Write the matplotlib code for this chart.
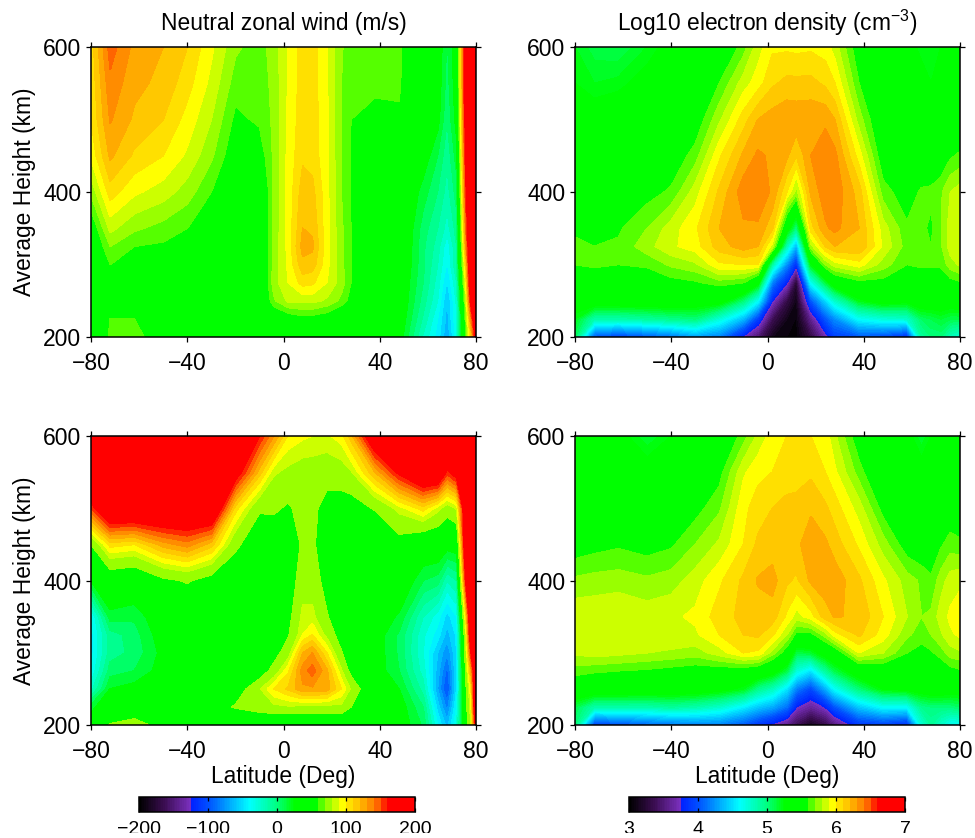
import numpy as np
import matplotlib
matplotlib.use("Agg")
import matplotlib.pyplot as plt
from matplotlib.cm import ScalarMappable
from matplotlib.colors import LinearSegmentedColormap, Normalize, BoundaryNorm
from matplotlib.patches import Rectangle

plt.rcParams['font.family'] = ['Liberation Sans', 'DejaVu Sans']
plt.rcParams['mathtext.default'] = 'regular'

heights = [200, 225, 250, 275, 300, 325, 350, 400, 450, 500, 550, 600]
lat_wind = [-80, -72, -62, -50, -40, -30, -20, -10, -4, 2, 8, 12, 18, 24, 28, 38, 48, 58, 64, 68, 72, 76, 78, 80]
lat_dens = [-80, -72, -62, -50, -40, -30, -20, -10, -4, 2, 8, 12, 18, 24, 28, 38, 48, 58, 64, 68, 72, 76, 80]

# one row per latitude, values by height
wind_upper = [
    [40, 40, 40, 40, 40, 42, 48, 72, 92, 100, 102, 104],
    [62, 60, 50, 52, 60, 70, 83, 105, 122, 131, 137, 145],
    [66, 60, 50, 45, 50, 60, 72, 92, 108, 118, 123, 127],
    [48, 45, 40, 40, 48, 58, 66, 85, 100, 110, 117, 120],
    [40, 40, 38, 38, 42, 50, 60, 75, 88, 96, 104, 110],
    [38, 38, 38, 36, 36, 40, 46, 60, 72, 80, 87, 92],
    [35, 35, 35, 35, 35, 35, 38, 42, 50, 57, 65, 72],
    [25, 32, 35, 35, 35, 35, 36, 38, 52, 62, 64, 65],
    [22, 42, 68, 75, 74, 73, 72, 72, 72, 72, 73, 75],
    [22, 50, 82, 90, 92, 93, 93, 93, 93, 92, 91, 90],
    [22, 55, 83, 104, 117, 124, 120, 115, 108, 106, 105, 105],
    [22, 54, 83, 102, 115, 122, 118, 113, 106, 105, 105, 105],
    [22, 50, 78, 90, 93, 93, 93, 93, 92, 92, 91, 90],
    [22, 40, 67, 75, 73, 73, 72, 70, 70, 70, 70, 71],
    [22, 35, 55, 60, 60, 60, 60, 59, 59, 60, 63, 65],
    [25, 30, 32, 35, 35, 35, 35, 38, 45, 57, 62, 65],
    [28, 32, 35, 35, 38, 40, 40, 40, 48, 58, 62, 63],
    [-22, -12, -5, 0, 2, 2, 5, 15, 28, 30, 32, 33],
    [-45, -40, -30, -25, -20, -15, -10, 0, 10, 25, 28, 30],
    [-70, -65, -62, -52, -42, -38, -25, -15, -8, 0, 5, 8],
    [-35, -30, -28, -20, -10, -10, -5, 5, 15, 25, 28, 30],
    [65, 72, 85, 100, 115, 135, 145, 160, 170, 180, 190, 190],
    [110, 135, 170, 190, 199, 199, 199, 199, 199, 199, 199, 199],
    [170, 199, 199, 199, 199, 199, 199, 199, 199, 199, 199, 199],
]
wind_lower = [
    [30, 15, -25, -40, -45, -45, -42, 20, 60, 150, 199, 199],
    [62, 35, 20, 5, -5, -5, 15, 40, 105, 199, 199, 199],
    [65, 50, 25, 10, 3, 5, 12, 35, 100, 199, 199, 199],
    [55, 30, 28, 26, 24, 28, 32, 55, 125, 199, 199, 199],
    [35, 32, 30, 30, 32, 35, 38, 62, 135, 199, 199, 199],
    [32, 50, 32, 32, 32, 34, 36, 50, 115, 199, 199, 199],
    [30, 62, 45, 34, 34, 34, 36, 40, 65, 105, 175, 199],
    [30, 72, 78, 45, 34, 32, 32, 35, 42, 63, 115, 160],
    [30, 76, 100, 68, 50, 36, 36, 38, 45, 63, 82, 130],
    [30, 78, 112, 98, 72, 58, 52, 45, 45, 57, 76, 98],
    [30, 76, 128, 135, 120, 90, 84, 72, 63, 68, 72, 92],
    [30, 76, 128, 145, 130, 100, 84, 72, 65, 66, 72, 90],
    [30, 75, 125, 122, 100, 75, 62, 50, 40, 50, 70, 88],
    [30, 76, 100, 82, 62, 48, 40, 35, 35, 48, 72, 95],
    [30, 60, 78, 52, 42, 38, 32, 30, 35, 48, 78, 115],
    [32, 30, 30, 28, 28, 28, 30, 32, 30, 62, 120, 190],
    [30, 28, 20, 10, 8, 8, 18, 35, 50, 85, 165, 199],
    [8, 0, -15, -25, -30, -28, -20, 10, 35, 105, 199, 199],
    [-40, -55, -70, -65, -60, -45, -35, 5, 35, 85, 199, 199],
    [-65, -85, -105, -95, -80, -65, -55, -20, 28, 70, 155, 199],
    [-30, -40, -50, -50, -50, -48, -40, -10, 30, 82, 175, 199],
    [50, 55, 60, 70, 80, 90, 110, 170, 199, 199, 199, 199],
    [80, 90, 100, 125, 160, 190, 199, 199, 199, 199, 199, 199],
    [170, 199, 199, 199, 199, 199, 199, 199, 199, 199, 199, 199],
]
dens_upper = [
    [5.05, 5.2, 5.35, 5.5, 5.6, 5.65, 5.55, 5.45, 5.4, 5.35, 5.25, 5.2],
    [4.0, 4.85, 5.4, 5.5, 5.62, 5.6, 5.5, 5.4, 5.35, 5.32, 5.2, 5.12],
    [3.9, 4.85, 5.4, 5.55, 5.6, 5.62, 5.58, 5.5, 5.4, 5.35, 5.22, 5.1],
    [4.0, 4.9, 5.4, 5.5, 5.62, 5.76, 5.7, 5.55, 5.42, 5.33, 5.3, 5.2],
    [4.1, 4.95, 5.42, 5.55, 5.72, 5.88, 5.85, 5.62, 5.5, 5.4, 5.32, 5.3],
    [4.25, 5.0, 5.38, 5.58, 5.78, 5.95, 5.98, 5.85, 5.65, 5.5, 5.4, 5.35],
    [4.15, 4.7, 5.35, 5.65, 5.98, 6.15, 6.2, 6.12, 5.98, 5.78, 5.6, 5.42],
    [3.7, 4.35, 5.0, 5.6, 6.0, 6.25, 6.28, 6.36, 6.22, 6.05, 5.85, 5.65],
    [3.45, 3.9, 4.6, 5.3, 6.0, 6.2, 6.28, 6.38, 6.32, 6.2, 5.95, 5.85],
    [3.1, 3.35, 3.75, 4.15, 4.85, 5.85, 6.12, 6.28, 6.28, 6.25, 6.08, 5.98],
    [3.05, 3.1, 3.3, 3.75, 4.2, 4.8, 5.35, 6.0, 6.22, 6.28, 6.13, 5.98],
    [3.02, 3.04, 3.08, 3.2, 3.8, 4.3, 4.95, 5.75, 6.1, 6.27, 6.13, 5.97],
    [3.28, 3.55, 4.0, 4.6, 5.2, 5.75, 6.05, 6.22, 6.3, 6.28, 6.13, 5.98],
    [3.65, 4.0, 4.45, 5.1, 5.7, 6.1, 6.28, 6.36, 6.36, 6.28, 6.08, 5.95],
    [3.9, 4.2, 4.75, 5.4, 5.85, 6.2, 6.33, 6.37, 6.33, 6.2, 6.0, 5.85],
    [4.0, 4.6, 5.2, 5.55, 5.95, 6.2, 6.2, 6.15, 5.95, 5.75, 5.6, 5.5],
    [3.95, 4.7, 5.35, 5.55, 5.75, 5.88, 5.85, 5.65, 5.5, 5.42, 5.38, 5.35],
    [3.8, 4.75, 5.3, 5.5, 5.6, 5.65, 5.62, 5.52, 5.42, 5.38, 5.32, 5.3],
    [4.9, 5.05, 5.4, 5.5, 5.62, 5.65, 5.62, 5.62, 5.45, 5.4, 5.3, 5.22],
    [5.0, 5.1, 5.38, 5.5, 5.62, 5.6, 5.58, 5.62, 5.5, 5.4, 5.25, 5.2],
    [5.0, 5.15, 5.38, 5.5, 5.62, 5.68, 5.68, 5.68, 5.48, 5.38, 5.3, 5.25],
    [4.8, 5.1, 5.35, 5.55, 5.75, 5.85, 5.85, 5.8, 5.58, 5.45, 5.35, 5.3],
    [4.7, 5.1, 5.4, 5.58, 5.82, 5.9, 5.9, 5.85, 5.62, 5.45, 5.35, 5.32],
]
dens_lower = [
    [5.0, 5.1, 5.45, 5.65, 5.82, 5.88, 5.88, 5.72, 5.52, 5.4, 5.38, 5.35],
    [3.9, 4.85, 5.42, 5.62, 5.85, 5.88, 5.88, 5.74, 5.55, 5.42, 5.38, 5.32],
    [3.95, 4.85, 5.42, 5.6, 5.83, 5.88, 5.9, 5.75, 5.58, 5.42, 5.38, 5.3],
    [4.05, 4.85, 5.4, 5.58, 5.8, 5.88, 5.86, 5.72, 5.54, 5.4, 5.32, 5.15],
    [4.1, 4.9, 5.4, 5.55, 5.78, 5.88, 5.88, 5.75, 5.58, 5.42, 5.35, 5.25],
    [4.15, 4.85, 5.38, 5.52, 5.75, 5.88, 5.92, 5.85, 5.7, 5.55, 5.4, 5.35],
    [4.15, 4.75, 5.32, 5.52, 5.85, 6.0, 6.05, 5.98, 5.82, 5.68, 5.55, 5.42],
    [4.0, 4.55, 5.2, 5.5, 6.0, 6.1, 6.13, 6.12, 6.0, 5.97, 5.88, 5.65],
    [3.85, 4.4, 4.95, 5.45, 5.98, 6.12, 6.15, 6.21, 6.12, 6.05, 5.97, 5.82],
    [3.7, 4.3, 4.8, 5.35, 5.75, 6.02, 6.15, 6.24, 6.15, 6.1, 6.0, 5.95],
    [3.55, 4.1, 4.5, 5.1, 5.5, 5.8, 5.98, 6.12, 6.15, 6.13, 6.05, 6.0],
    [3.35, 3.75, 4.15, 4.7, 5.1, 5.55, 5.85, 6.08, 6.17, 6.14, 6.05, 6.0],
    [3.12, 3.6, 3.95, 4.5, 5.15, 5.55, 5.95, 6.22, 6.27, 6.18, 6.08, 6.0],
    [3.3, 3.75, 4.3, 4.9, 5.35, 5.75, 6.15, 6.26, 6.22, 6.12, 6.0, 5.95],
    [3.5, 4.0, 4.6, 5.1, 5.45, 5.95, 6.21, 6.26, 6.15, 6.05, 5.92, 5.82],
    [3.85, 4.4, 5.0, 5.4, 5.9, 6.12, 6.18, 6.12, 5.98, 5.85, 5.65, 5.5],
    [3.9, 4.6, 5.25, 5.45, 5.8, 5.95, 6.0, 5.92, 5.75, 5.55, 5.4, 5.3],
    [3.8, 4.6, 5.3, 5.45, 5.6, 5.72, 5.8, 5.75, 5.52, 5.42, 5.35, 5.3],
    [4.7, 4.95, 5.35, 5.45, 5.55, 5.65, 5.7, 5.68, 5.48, 5.4, 5.32, 5.15],
    [4.9, 5.0, 5.38, 5.45, 5.58, 5.7, 5.72, 5.62, 5.5, 5.42, 5.32, 5.25],
    [4.75, 5.0, 5.38, 5.48, 5.65, 5.78, 5.85, 5.75, 5.58, 5.42, 5.35, 5.3],
    [4.6, 5.0, 5.35, 5.55, 5.75, 5.88, 5.92, 5.85, 5.65, 5.5, 5.38, 5.32],
    [4.6, 5.05, 5.35, 5.58, 5.78, 5.92, 5.95, 5.88, 5.62, 5.5, 5.38, 5.32],
]

wind_ticks = [-200, -100, 0, 100, 200]
dens_ticks = [3, 4, 5, 6, 7]
lat_ticks = [-80, -40, 0, 40, 80]
height_ticks = [200, 400, 600]

# smooth part of the palette, then stepped bands (one colour per 10 m/s)
smooth_pos = [-200, -165, -126, -125, -100, -40, 0, 25, 60]
smooth_col = ['#000000', '#3a0d50', '#7b30c0', '#0020ff', '#0050ff', '#00ffff', '#00ff80', '#00ff00', '#00ff00']
band_edges = [60, 70, 80, 90, 100, 110, 120, 130, 140, 150, 160]
band_col_upper = ['#55ff00', '#99ff00', '#ccff00', '#ffff00', '#ffe000', '#ffc800', '#ffaa00', '#ff8c00', '#ff6400', '#ff2800']
band_col_lower = ['#99ff00', '#99ff00', '#ccff00', '#ffff00', '#ffe000', '#ffc800', '#ffaa00', '#ff8c00', '#ff6400', '#ff2800']


def make_cmap(bands):
    nodes = [((p + 200) / 400, c) for p, c in zip(smooth_pos, smooth_col)]
    for lo, hi, c in zip(band_edges[:-1], band_edges[1:], bands):
        nodes += [((lo + 200) / 400, c), ((hi + 200) / 400, c)]
    nodes += [((160 + 200) / 400, '#ff0000'), (1.0, '#ff0000')]
    return LinearSegmentedColormap.from_list('gmt', nodes, N=1600)


cmap_up = make_cmap(band_col_upper)
cmap_low = make_cmap(band_col_lower)

W, H = 975, 838
fig = plt.figure(figsize=(W / 100, H / 100), dpi=100)


def box(x0, y0, x1, y1):
    return [x0 / W, 1 - y1 / H, (x1 - x0) / W, (y1 - y0) / H]


def panel(rect, lats, data, vmin, vmax, nlev, cmap, title=None, ylabel=False, xlabel=False):
    ax = fig.add_axes(box(*rect))
    levels = np.linspace(vmin, vmax, nlev)
    cf = ax.contourf(lats, heights, np.array(data).T, levels=levels, cmap=cmap,
                     norm=Normalize(vmin, vmax))
    cf.set_edgecolor('face')
    cf.set_linewidth(0.4)
    ax.set_xlim(-80, 80)
    ax.set_ylim(200, 600)
    ax.set_xticks(lat_ticks)
    ax.set_yticks(height_ticks)
    ax.tick_params(direction='out', length=3.5, width=0.9, labelsize=16.5, top=True, right=True)
    ax.tick_params(axis='x', pad=7.5)
    ax.tick_params(axis='y', pad=3.5)
    for s in ax.spines.values():
        s.set_linewidth(1.1)
        s.set_zorder(5)
    if title:
        ax.text(0.5, 1.057, title, transform=ax.transAxes, ha='center', va='baseline', fontsize=16.4)
    if ylabel:
        ax.set_ylabel('Average Height (km)', fontsize=16.4, labelpad=5)
    if xlabel:
        ax.set_xlabel('Latitude (Deg)', fontsize=16.4, labelpad=1)
    return ax


panel((91, 47, 476, 337), lat_wind, wind_upper, -200, 200, 41, cmap_up, title='Neutral zonal wind (m/s)', ylabel=True)
panel((575, 47, 960, 337), lat_dens, dens_upper, 3, 7, 81, cmap_up, title='Log10 electron density (cm$^{-3}$)')
panel((91, 436, 476, 725), lat_wind, wind_lower, -200, 200, 41, cmap_low, ylabel=True, xlabel=True)
panel((575, 436, 960, 725), lat_dens, dens_lower, 3, 7, 81, cmap_up, xlabel=True)

clip = Rectangle((0, (H - 833) / H), 1, 1, transform=fig.transFigure)
for rect, ticks in [((139, 797, 415, 811.5), wind_ticks), ((629, 797, 905, 811.5), dens_ticks)]:
    cax = fig.add_axes(box(*rect))
    sm = ScalarMappable(norm=BoundaryNorm(np.linspace(ticks[0], ticks[-1], 161), cmap_up.N), cmap=cmap_up)
    cb = fig.colorbar(sm, cax=cax, orientation='horizontal', ticks=ticks, spacing='proportional')
    cb.outline.set_linewidth(1.1)
    cax.tick_params(direction='in', length=3, width=0.9, top=True, bottom=True, labelsize=14, pad=7)
    cax.minorticks_off()
    cax.set_xticks(ticks)
    for t in cax.get_xticklabels():
        t.set_clip_path(clip)
        t.set_clip_on(True)

fig.savefig('out.png', dpi=100)
